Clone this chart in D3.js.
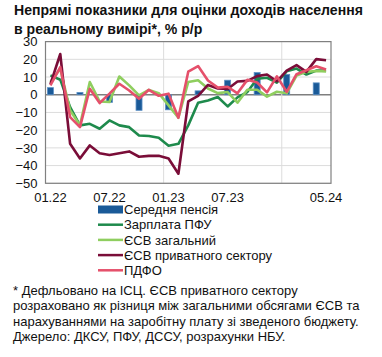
<!DOCTYPE html>
<html><head><meta charset="utf-8">
<script src="https://cdn.jsdelivr.net/npm/d3@7"></script>
<style>
html,body{margin:0;padding:0;background:#fff;}
svg{display:block;font-family:"Liberation Sans",Arial,sans-serif;}
</style></head>
<body><svg id="c" width="382" height="357"></svg>
<script>
const months = ["01.22","02.22","03.22","04.22","05.22","06.22","07.22","08.22","09.22","10.22","11.22","12.22",
  "01.23","02.23","03.23","04.23","05.23","06.23","07.23","08.23","09.23","10.23","11.23","12.23",
  "01.24","02.24","03.24","04.24","05.24"];
const tickLabels = ["01.22","07.22","01.23","07.23","05.24"];
const yTicks = [30,20,10,0,-10,-20,-30,-40,-50];
const gridMonths = ["01.23","01.24"];
const pension = [4,null,null,1.3,null,null,-4.3,null,null,-8.8,null,null,-8.5,null,null,2.2,null,null,8.2,null,null,12.5,null,null,11.5,null,null,6.7,null];
const wagePFU = [10.9,8.5,-7,-17.3,-16.4,-19.2,-14.5,-17.3,-18.3,-23,-23.3,-24.3,-28.8,-27.7,-17.3,-4.5,-3.2,-1.3,-6.6,-1.5,1.5,9,9.6,6.8,13.2,14.8,11.4,13.6,13.6];
const esvTotal = [7.2,14.7,-8.8,-17.3,7.2,-3.8,-4.1,10.3,5.3,-0.4,2.7,0.9,-6,-13,7.2,8.2,3.5,0.9,1.5,-4.5,2.8,2.8,-1.1,1.7,0.8,10.8,12.9,13.4,13.2];
const esvPrivate = [6,23,-27.7,-36,-28.6,-33,-34,-33,-32,-35,-34.5,-34.5,-36,-44.6,-3.8,-0.6,5.5,3.5,3.2,7.5,7.8,10.5,11.4,7.6,13.6,16.7,12.9,20.1,19.5];
const pdfo = [5.3,15.6,-12.6,-18.3,3.4,-4.7,0.6,6.2,2.4,-2.3,2.8,-0.6,0.6,-13,13,16.2,8,4,4.5,0.8,8.4,6.9,1.3,10.4,1.6,11.6,13.8,16.1,14.2];
const legendNames = ["Середня пенсія","Зарплата ПФУ","ЄСВ загальний","ЄСВ приватного сектору","ПДФО"];
const colors = ["#1a5a98","#1e8a4c","#8fce5f","#7a0d38","#e5506b"];
const titleLines = ["Непрямі показники для оцінки доходів населення","в реальному вимірі*, % р/р"];
const noteLines = ["* Дефльовано на ІСЦ. ЄСВ приватного сектору",
  "розраховано як різниця між загальними обсягами ЄСВ та",
  "нарахуваннями на заробітну плату зі зведеного бюджету.",
  "Джерело: ДКСУ, ПФУ, ДССУ, розрахунки НБУ."];

const svg = d3.select("#c");
const L = 45.5, R = 331, T = 41.6, B = 183.3;
const x = d3.scaleBand().domain(months).range([L, R]).padding(0);
const y = d3.scaleLinear().domain([-50, 30]).range([B, T]);
const cx = m => x(m) + x.bandwidth()/2;

// title
const tt = svg.append("g").selectAll("text").data(titleLines).join("text")
  .attr("x", 14).attr("y", (d,i) => 15 + i*18.5)
  .attr("font-size", 15).attr("font-weight", "bold").attr("fill", "#111").text(d => d);
const w0 = tt.nodes()[0].getComputedTextLength();
const fs = Math.min(15, 15 * 349 / w0);
tt.attr("font-size", fs);

// gridlines
svg.append("g").selectAll("line").data(yTicks).join("line")
  .attr("x1", L).attr("x2", R).attr("y1", d => y(d)).attr("y2", d => y(d))
  .attr("stroke", d => d === 0 ? "#7f7f7f" : "#dcdcdc").attr("stroke-width", d => d === 0 ? 1.5 : 1);
svg.append("g").selectAll("line").data(gridMonths).join("line")
  .attr("x1", d => x(d)).attr("x2", d => x(d)).attr("y1", T).attr("y2", B)
  .attr("stroke", "#dcdcdc").attr("stroke-width", 1);

// y axis labels
const yAxis = d3.axisLeft(y).tickValues(yTicks).tickSize(0).tickPadding(8);
const ya = svg.append("g").attr("transform", `translate(${L},0)`).call(yAxis);
ya.select(".domain").remove();
ya.selectAll("text").attr("font-size", 13).attr("font-family", "Liberation Sans, Arial, sans-serif").attr("fill", "#111");

// x axis labels
const xAxis = d3.axisBottom(x).tickValues(tickLabels).tickSize(0).tickPadding(9);
const xa = svg.append("g").attr("transform", `translate(0,${B})`).call(xAxis);
xa.select(".domain").remove();
xa.selectAll("text").attr("font-size", 13).attr("font-family", "Liberation Sans, Arial, sans-serif").attr("fill", "#111");

// bars
const bw = 6;
svg.append("g").selectAll("rect").data(months.map((m,i) => ({m, v: pension[i]})).filter(d => d.v !== null)).join("rect")
  .attr("x", d => cx(d.m) - bw/2).attr("width", bw)
  .attr("y", d => y(Math.max(0, d.v))).attr("height", d => Math.abs(y(d.v) - y(0)))
  .attr("fill", colors[0]).attr("stroke", "#5b8fc4").attr("stroke-width", 0.8);

// lines
const series = [wagePFU, esvTotal, esvPrivate, pdfo];
const line = d3.line().x((d,i) => cx(months[i])).y(d => y(d));
series.forEach((s, k) => {
  svg.append("path").datum(s).attr("d", line).attr("fill", "none")
    .attr("stroke", colors[k+1]).attr("stroke-width", 2.6).attr("stroke-linejoin", "round");
});

// border
svg.append("rect").attr("x", L).attr("y", T).attr("width", R-L).attr("height", B-T)
  .attr("fill", "none").attr("stroke", "#808080").attr("stroke-width", 1.2);

// legend
const lg = svg.append("g");
legendNames.forEach((n, i) => {
  const yy = 209.5 + i*15.2;
  if (i === 0) {
    lg.append("rect").attr("x", 98).attr("y", yy-4).attr("width", 25).attr("height", 8).attr("fill", colors[0]);
  } else {
    lg.append("line").attr("x1", 98).attr("x2", 123).attr("y1", yy).attr("y2", yy)
      .attr("stroke", colors[i]).attr("stroke-width", 2.5);
  }
  lg.append("text").attr("x", 124).attr("y", yy + 4.6).attr("font-size", 13).attr("fill", "#111").text(n);
});

// footnote
svg.append("g").selectAll("text").data(noteLines).join("text")
  .attr("x", 13).attr("y", (d,i) => 294.5 + i*15.6)
  .attr("font-size", 13).attr("fill", "#111").text(d => d);
</script></body></html>
